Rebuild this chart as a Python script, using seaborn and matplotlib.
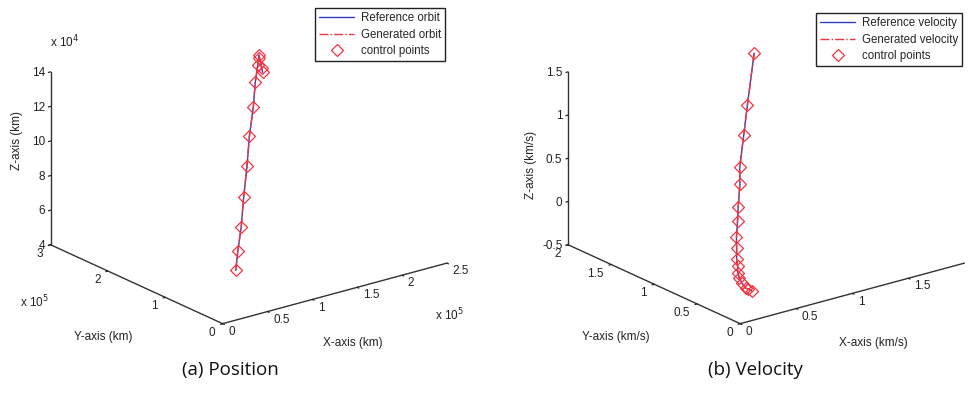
import matplotlib
matplotlib.use("Agg")
import matplotlib.pyplot as plt
import seaborn as sns
from matplotlib.ticker import FuncFormatter

sns.set_style("white")
plt.rcParams["font.family"] = ["Liberation Sans", "DejaVu Sans"]

# position control points (km)
pos_x = [0.69e5, 0.84e5, 1.00e5, 1.11e5, 1.32e5, 1.43e5, 1.64e5, 1.79e5, 1.90e5, 1.95e5, 1.96e5, 2.11e5, 2.16e5]
pos_y = [0.85e5, 1.05e5, 1.24e5, 1.37e5, 1.64e5, 1.77e5, 2.03e5, 2.23e5, 2.36e5, 2.42e5, 2.43e5, 2.62e5, 2.68e5]
pos_z = [4.82e4, 5.40e4, 6.32e4, 7.66e4, 8.76e4, 10.15e4, 11.13e4, 12.06e4, 12.70e4, 12.93e4, 13.10e4, 11.83e4, 11.43e4]

# velocity control points (km/s)
vel_x = [1.59, 1.40, 1.29, 1.17, 1.11, 1.01, 0.92, 0.78, 0.69, 0.59, 0.53, 0.47, 0.43, 0.40, 0.37, 0.385, 0.39]
vel_y = [1.91, 1.74, 1.64, 1.53, 1.45, 1.34, 1.23, 1.06, 0.94, 0.81, 0.72, 0.64, 0.57, 0.50, 0.42, 0.41, 0.37]
vel_z = [1.20, 0.75, 0.48, 0.20, 0.06, -0.12, -0.20, -0.26, -0.30, -0.33, -0.35, -0.37, -0.385, -0.40, -0.41, -0.42, -0.43]

blue = "#2f3fbf"
red = "#f2333f"
axis_col = "#333333"


def style_3d(ax):
    ax.set_proj_type("ortho")
    ax.view_init(elev=20.6, azim=-127.5)
    ax.set_box_aspect((1.53, 1.53, 1.0), zoom=1.153)
    ax.grid(False)
    for axis in (ax.xaxis, ax.yaxis, ax.zaxis):
        axis.pane.fill = False
        axis.pane.set_edgecolor("none")
        axis.line.set_color(axis_col)
        axis.line.set_linewidth(1.0)
        axis._axinfo["tick"]["inward_factor"] = 0.12
        axis._axinfo["tick"]["outward_factor"] = 0.0
        axis._axinfo["tick"]["linewidth"] = {True: 0.9, False: 0.5}
        axis._axinfo["tick"]["color"] = axis_col
    ax.tick_params(labelsize=8.5, colors="#222222", pad=-3.5)
    ax.zaxis.set_tick_params(pad=-6)
    ax.zaxis.set_ticks_position("upper")


def align_ticks(ax):
    plt.setp(ax.xaxis.get_majorticklabels(), ha="left", va="center")
    plt.setp(ax.yaxis.get_majorticklabels(), ha="right", va="center_baseline")
    plt.setp(ax.zaxis.get_majorticklabels(), ha="right", va="center_baseline")


def add_legend(ax, anchor):
    ax.legend(loc="upper right", bbox_to_anchor=anchor, bbox_transform=fig.transFigure,
              fontsize=8.3, frameon=True, fancybox=False, edgecolor="#222222", framealpha=1,
              borderpad=0.35, borderaxespad=0, handlelength=3.0, handletextpad=0.6,
              labelspacing=0.4)


fig = plt.figure(figsize=(9.71, 4.03), dpi=100)

# (a) Position
ax1 = fig.add_axes([0.001, 0.112, 0.5, 0.92], projection="3d")
style_3d(ax1)
ax1.plot(pos_x, pos_y, pos_z, color=blue, lw=1.0, label="Reference orbit")
ax1.plot(pos_x, pos_y, pos_z, color=red, lw=1.0, ls="-.", label="Generated orbit")
ax1.plot(pos_x, pos_y, pos_z, ls="none", marker="D", ms=6, mfc="none", mec=red, mew=0.9,
         label="control points")
ax1.set_xlim(0, 2.5e5)
ax1.set_ylim(0, 3e5)
ax1.set_zlim(4e4, 14e4)
ax1.set_xticks([0, 0.5e5, 1e5, 1.5e5, 2e5, 2.5e5])
ax1.set_yticks([0, 1e5, 2e5, 3e5])
ax1.set_zticks([4e4, 6e4, 8e4, 10e4, 12e4, 14e4])
ax1.xaxis.set_major_formatter(FuncFormatter(lambda v, p: f"{v / 1e5:g}"))
ax1.yaxis.set_major_formatter(FuncFormatter(lambda v, p: f"{v / 1e5:g}"))
ax1.zaxis.set_major_formatter(FuncFormatter(lambda v, p: f"{v / 1e4:g}"))
align_ticks(ax1)
add_legend(ax1, (445 / 971, 1 - 8 / 403))

# (b) Velocity
ax2 = fig.add_axes([0.534, 0.112, 0.5, 0.92], projection="3d")
style_3d(ax2)
ax2.plot(vel_x, vel_y, vel_z, color=blue, lw=1.0, label="Reference velocity")
ax2.plot(vel_x, vel_y, vel_z, color=red, lw=1.0, ls="-.", label="Generated velocity")
ax2.plot(vel_x, vel_y, vel_z, ls="none", marker="D", ms=6, mfc="none", mec=red, mew=0.9,
         label="control points")
ax2.set_xlim(0, 2)
ax2.set_ylim(0, 2)
ax2.set_zlim(-0.5, 1.5)
ax2.set_xticks([0, 0.5, 1, 1.5])
ax2.set_yticks([0, 0.5, 1, 1.5, 2])
ax2.set_zticks([-0.5, 0, 0.5, 1, 1.5])
ax2.xaxis.set_major_formatter(FuncFormatter(lambda v, p: f"{v:g}"))
ax2.yaxis.set_major_formatter(FuncFormatter(lambda v, p: f"{v:g}"))
ax2.zaxis.set_major_formatter(FuncFormatter(lambda v, p: f"{v:g}"))
align_ticks(ax2)
add_legend(ax2, (962 / 971, 1 - 13 / 403))

# axis labels and exponents
lab = dict(fontsize=8.5, color="#222222")
fig.text(17 / 971, 1 - 140 / 403, "Z-axis (km)", rotation=90, ha="center", va="center", **lab)
fig.text(103 / 971, 1 - 337 / 403, "Y-axis (km)", ha="center", va="center", **lab)
fig.text(353 / 971, 1 - 343 / 403, "X-axis (km)", ha="center", va="center", **lab)
fig.text(50 / 971, 1 - 42 / 403, r"x 10$^4$", ha="left", va="center", **lab)
fig.text(20 / 971, 1 - 302 / 403, r"x 10$^5$", ha="left", va="center", **lab)
fig.text(435 / 971, 1 - 315 / 403, r"x 10$^5$", ha="left", va="center", **lab)

fig.text(531 / 971, 1 - 165 / 403, "Z-axis (km/s)", rotation=90, ha="center", va="center", **lab)
fig.text(616 / 971, 1 - 337 / 403, "Y-axis (km/s)", ha="center", va="center", **lab)
fig.text(873 / 971, 1 - 343 / 403, "X-axis (km/s)", ha="center", va="center", **lab)

cap = dict(fontsize=13.5, family=["Open Sans", "DejaVu Sans"], color="#111111")
fig.text(230 / 971, 1 - 370 / 403, "(a) Position", ha="center", va="center", **cap)
fig.text(755 / 971, 1 - 370 / 403, "(b) Velocity", ha="center", va="center", **cap)

fig.savefig("out.png", dpi=100)
